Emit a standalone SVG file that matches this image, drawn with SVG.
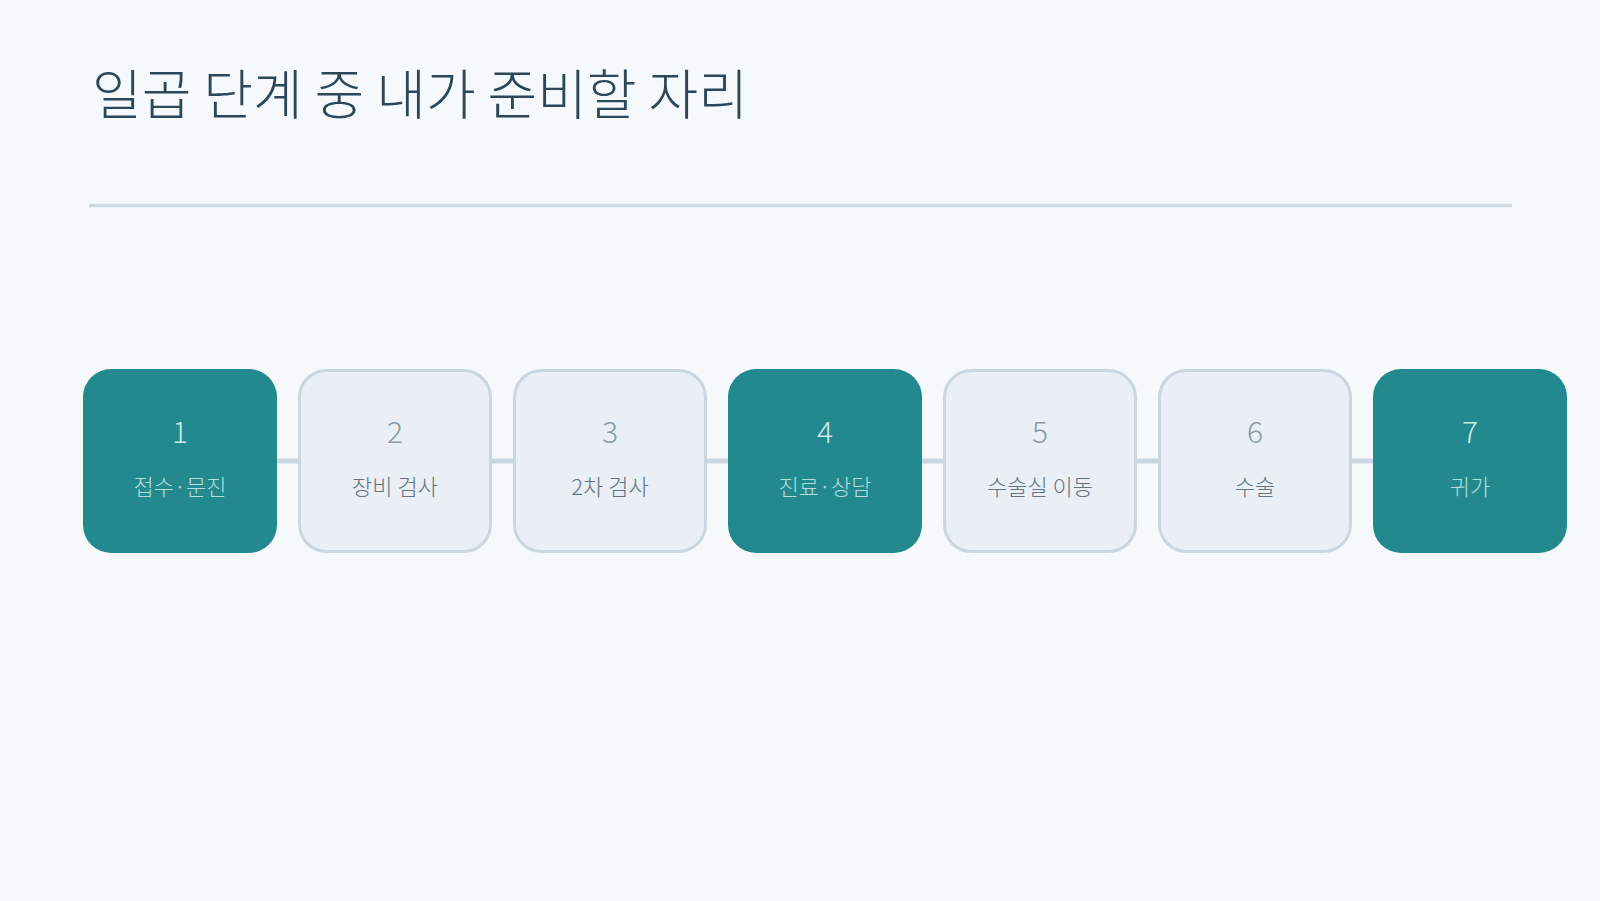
<svg xmlns="http://www.w3.org/2000/svg" width="1600" height="901" viewBox="0 0 1600 901">
<style>
  .title{font-family:"Noto Sans CJK KR Light","Noto Sans CJK KR DemiLight","Noto Sans CJK KR","Noto Sans",sans-serif;font-size:54px;font-weight:300;fill:#2c465a}
  .box-hi{fill:#228a8e}
  .box-lo{fill:#e9eff4;stroke:#cad7e1;stroke-width:3}
  .num{font-family:"Noto Sans CJK KR Light","Noto Sans CJK KR DemiLight","Noto Sans CJK KR","Noto Sans",sans-serif;font-size:30px;font-weight:300;text-anchor:middle}
  .lab{font-family:"Noto Sans CJK KR Light","Noto Sans CJK KR DemiLight","Noto Sans CJK KR","Noto Sans",sans-serif;font-size:22px;font-weight:300;text-anchor:middle}
  .hi-num{fill:#cdeaea}
  .hi-lab{fill:#b3dcdc}
  .lo-num{fill:#8a9aa8}
  .lo-lab{fill:#63737f}
  .conn{stroke:#cad7e1;stroke-width:5;fill:none}
</style>
<rect width="1600" height="901" fill="#f6f9fb"/>
<text class="title" x="92" y="115">일곱 단계 중 내가 준비할 자리</text>
<line x1="89" y1="205.5" x2="1512" y2="205.5" stroke="#cdd9e3" stroke-width="3.5"/>
<g id="connectors">
  <line class="conn" x1="277" y1="461" x2="298" y2="461"/>
  <line class="conn" x1="492" y1="461" x2="513" y2="461"/>
  <line class="conn" x1="707" y1="461" x2="728" y2="461"/>
  <line class="conn" x1="922" y1="461" x2="943" y2="461"/>
  <line class="conn" x1="1137" y1="461" x2="1158" y2="461"/>
  <line class="conn" x1="1352" y1="461" x2="1373" y2="461"/>
</g>
<g id="step1">
  <rect class="box-hi" x="83" y="369" width="194" height="184" rx="28"/>
  <text class="num hi-num" x="180" y="443">1</text>
  <text class="lab hi-lab" x="180" y="495">접수·문진</text>
</g>
<g id="step2">
  <rect class="box-lo" x="299.5" y="370.5" width="191" height="181" rx="27"/>
  <text class="num lo-num" x="395" y="443">2</text>
  <text class="lab lo-lab" x="395" y="495">장비 검사</text>
</g>
<g id="step3">
  <rect class="box-lo" x="514.5" y="370.5" width="191" height="181" rx="27"/>
  <text class="num lo-num" x="610" y="443">3</text>
  <text class="lab lo-lab" x="610" y="495">2차 검사</text>
</g>
<g id="step4">
  <rect class="box-hi" x="728" y="369" width="194" height="184" rx="28"/>
  <text class="num hi-num" x="825" y="443">4</text>
  <text class="lab hi-lab" x="825" y="495">진료·상담</text>
</g>
<g id="step5">
  <rect class="box-lo" x="944.5" y="370.5" width="191" height="181" rx="27"/>
  <text class="num lo-num" x="1040" y="443">5</text>
  <text class="lab lo-lab" x="1040" y="495">수술실 이동</text>
</g>
<g id="step6">
  <rect class="box-lo" x="1159.5" y="370.5" width="191" height="181" rx="27"/>
  <text class="num lo-num" x="1255" y="443">6</text>
  <text class="lab lo-lab" x="1255" y="495">수술</text>
</g>
<g id="step7">
  <rect class="box-hi" x="1373" y="369" width="194" height="184" rx="28"/>
  <text class="num hi-num" x="1470" y="443">7</text>
  <text class="lab hi-lab" x="1470" y="495">귀가</text>
</g>
</svg>
